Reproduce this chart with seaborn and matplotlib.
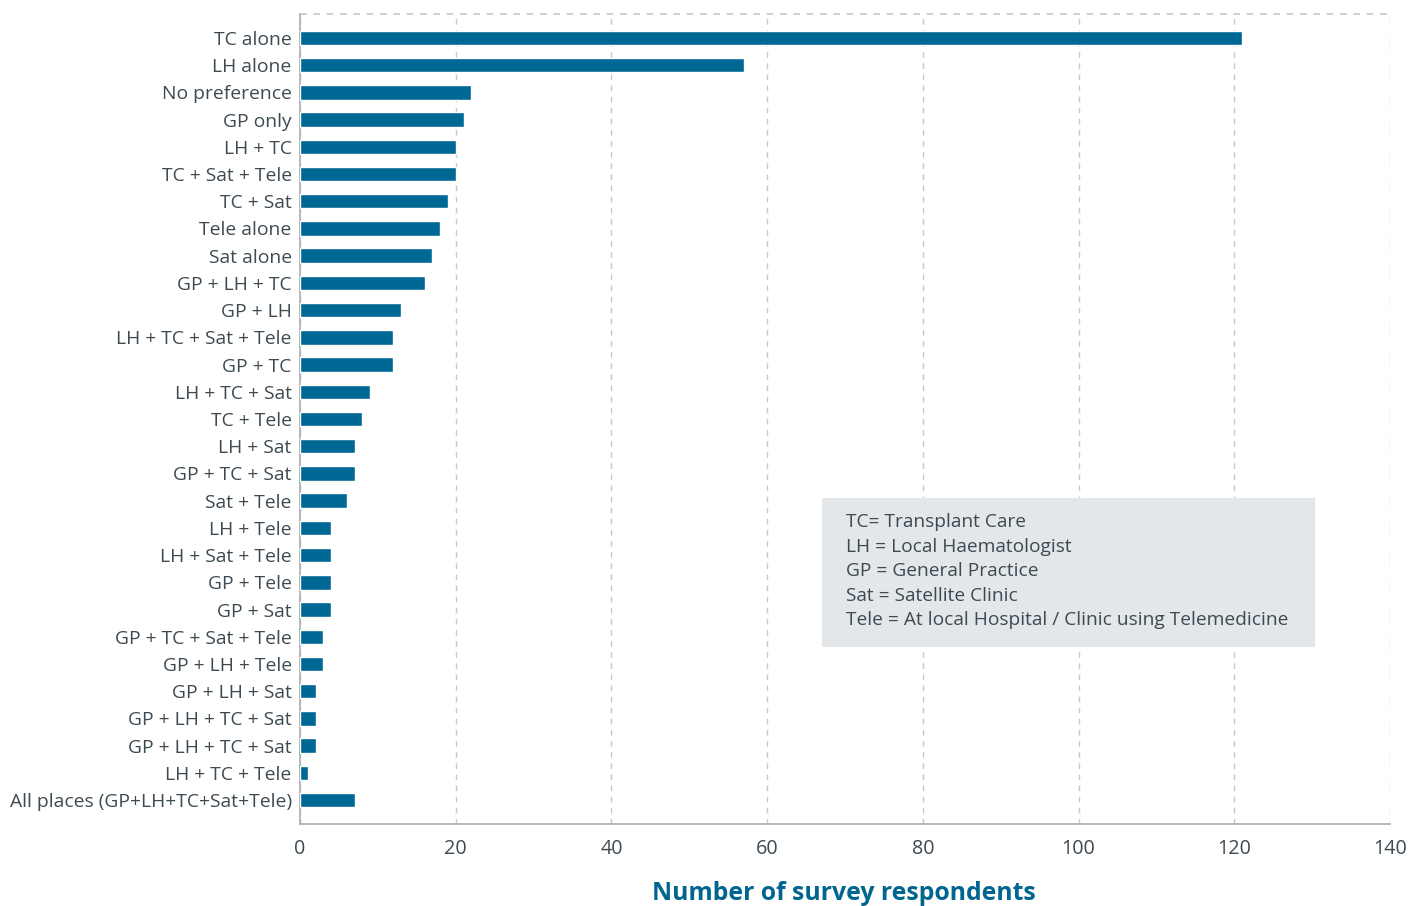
import matplotlib
matplotlib.use("Agg")
import matplotlib.pyplot as plt
from matplotlib.patches import Rectangle
import seaborn as sns
import pandas as pd

categories = [
    "TC alone", "LH alone", "No preference", "GP only", "LH + TC", "TC + Sat + Tele",
    "TC + Sat", "Tele alone", "Sat alone", "GP + LH + TC", "GP + LH", "LH + TC + Sat + Tele",
    "GP + TC", "LH + TC + Sat", "TC + Tele", "LH + Sat", "GP + TC + Sat", "Sat + Tele",
    "LH + Tele", "LH + Sat + Tele", "GP + Tele", "GP + Sat", "GP + TC + Sat + Tele",
    "GP + LH + Tele", "GP + LH + Sat", "GP + LH + TC + Sat", "GP + LH + TC + Sat",
    "LH + TC + Tele", "All places (GP+LH+TC+Sat+Tele)",
]
values = [121, 57, 22, 21, 20, 20, 19, 18, 17, 16, 13, 12, 12, 9, 8, 7, 7, 6,
          4, 4, 4, 4, 3, 3, 2, 2, 2, 1, 7]
x_ticks = [0, 20, 40, 60, 80, 100, 120, 140]
legend_lines = [
    "TC= Transplant Care",
    "LH = Local Haematologist",
    "GP = General Practice",
    "Sat = Satellite Clinic",
    "Tele = At local Hospital / Clinic using Telemedicine",
]

sns.set_theme(style="white")
plt.rcParams["font.family"] = ["Open Sans", "DejaVu Sans"]

text_color = "#3d4a52"
bar_color = "#006894"
grid_color = "#c4c8cb"

keys = [f"k{i}" for i in range(len(categories))]
df = pd.DataFrame({"key": keys, "val": values})

fig = plt.figure(figsize=(14.1, 9.06), dpi=100)
ax = fig.add_axes([300 / 1410, 1 - 824 / 906, 1090 / 1410, 810 / 906])

sns.barplot(data=df, x="val", y="key", order=keys, color=bar_color,
            width=0.53, saturation=1, ax=ax, zorder=3)

n = len(categories)
ax.set_xlim(0, 140)
ax.set_ylim(n - 1 + 0.88, -0.88)
ax.set_yticks(range(n))
ax.set_yticklabels(categories)
ax.set_xticks(x_ticks)
ax.set_xticklabels([str(t) for t in x_ticks])
ax.xaxis.grid(True, linestyle=(0, (4, 4)), color=grid_color, linewidth=1, zorder=0)
ax.yaxis.grid(False)
ax.axhline(-0.88, color=grid_color, linestyle=(0, (4, 4)), linewidth=1.2, clip_on=False)

for s in ["top", "right"]:
    ax.spines[s].set_visible(False)
for s in ["left", "bottom"]:
    ax.spines[s].set_color("#a9aeb1")
    ax.spines[s].set_linewidth(1.2)

ax.tick_params(axis="y", length=0, pad=6, labelsize=13.9, labelcolor=text_color)
ax.tick_params(axis="x", length=0, pad=11, labelsize=14.2, labelcolor=text_color)
ax.set_ylabel("")
ax.set_xlabel("Number of survey respondents", fontsize=17.8, fontweight="bold",
              color="#00668f", va="center")
ax.xaxis.set_label_coords((843.5 - 300) / 1090, (824 - 893) / 810)

# legend box
ax.add_patch(Rectangle((67.0, 16.9), 63.4, 5.48, facecolor="#e3e7ea",
                       edgecolor="none", zorder=4))
for i, line in enumerate(legend_lines):
    ax.text(70.1, 17.79 + i * 0.9, line, fontsize=13.8, color=text_color,
            va="center", ha="left", zorder=5)

fig.savefig("out.png", dpi=100)
